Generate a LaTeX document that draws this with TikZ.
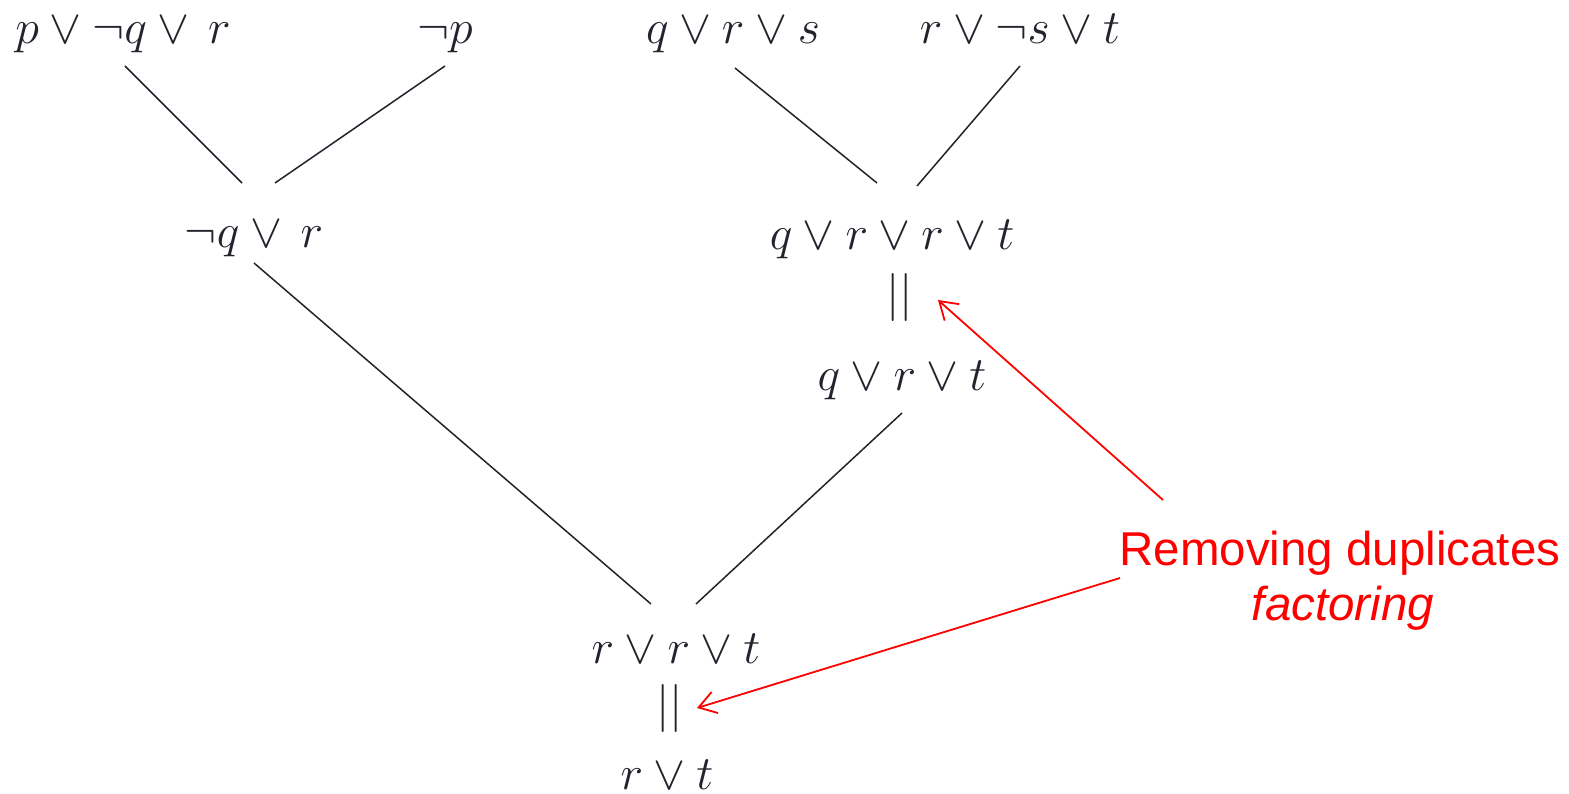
\documentclass[tikz,border=0pt]{standalone}
\usepackage{fix-cm}
\usepackage{fontspec}
\newfontfamily\arialfont{Liberation Sans}
\usetikzlibrary{arrows.meta,calc}
\definecolor{ink}{RGB}{35,35,45}
\definecolor{annot}{RGB}{255,0,0}
\begin{document}
\begin{tikzpicture}[x=1pt,y=-1pt,
  cl/.style={inner sep=0pt, anchor=base, text=ink, font=\fontsize{48}{58}\selectfont},
  eqs/.style={inner sep=0pt, anchor=center, text=ink, font=\fontsize{48}{58}\selectfont},
  edge/.style={draw=ink, line width=1.5pt},
  note/.style={inner sep=0pt, anchor=base, text=annot, font=\arialfont\fontsize{47.5}{56}\selectfont},
  arr/.style={draw=annot, line width=1.8pt, -{Straight Barb[length=17pt,width=22pt]}}]
\fill[white] (0,0) rectangle (1569,794);
\useasboundingbox (0,0) rectangle (1569,794);

\node[cl] (c1) at (123,44) {$p\vee\neg q\vee\, r$};
\node[cl] (c2) at (445,44) {$\neg p$};
\node[cl] (c3) at (733,44) {$q\vee r\vee s$};
\node[cl] (c4) at (1020,44) {$r\vee\neg s\vee t$};
\node[cl] (c5) at (254,248) {$\neg q\vee\, r$};
\node[cl] (c6) at (892,250) {$q\vee r\vee r\vee t$};
\node[eqs] (e1) at (900,297) {$||$};
\node[cl] (c7) at (902,390) {$q\vee r\vee t$};
\node[cl] (c8) at (676,663) {$r\vee r\vee t$};
\node[eqs] (e2) at (670,708) {$||$};
\node[cl] (c9) at (667,789) {$r\vee t$};

\node[note] (n1) at (1340,565) {Removing duplicates};
\node[note] (n2) at (1343,620) {\itshape factoring};

\draw[edge] ($(c1.base)+(2,22)$) -- ($(c5.base)+(-12,-65)$);
\draw[edge] ($(c2.base)+(0,22)$) -- ($(c5.base)+(21,-65)$);
\draw[edge] ($(c3.base)+(2,24)$) -- ($(c6.base)+(-15,-67)$);
\draw[edge] ($(c4.base)+(0,22)$) -- ($(c6.base)+(25,-64)$);
\draw[edge] ($(c5.base)+(0,15)$) -- ($(c8.base)+(-25,-59)$);
\draw[edge] ($(c7.base)+(0,23)$) -- ($(c8.base)+(20,-59)$);

\draw[arr] ($(n1.base)+(-177,-65)$) -- ($(e1.center)+(38,3)$);
\draw[arr] ($(n1.base)+(-220,13)$) -- ($(e2.center)+(27,0)$);
\end{tikzpicture}
\end{document}
